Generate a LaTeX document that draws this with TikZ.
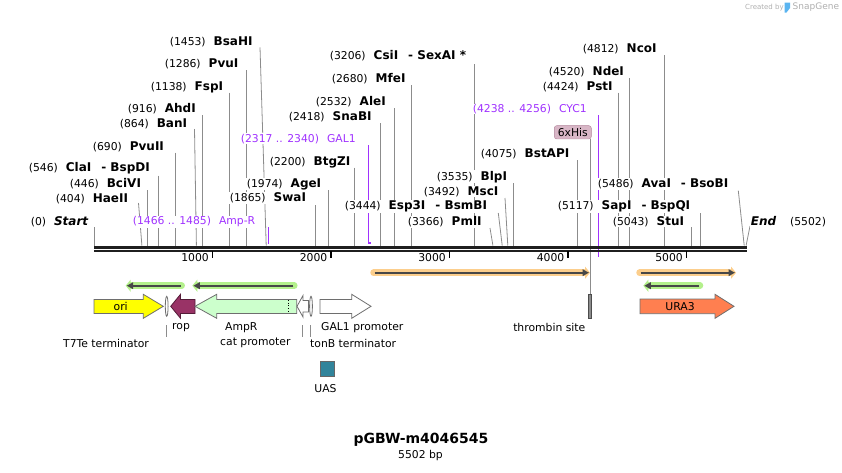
\documentclass[tikz,border=0pt]{standalone}
\usepackage{fontspec}
\setmainfont{DejaVu Sans}
\usetikzlibrary{arrows.meta}

\definecolor{leadgray}{RGB}{140,140,140}
\definecolor{featgray}{RGB}{110,110,110}
\definecolor{purp}{RGB}{160,50,255}
\definecolor{orifill}{RGB}{255,255,0}
\definecolor{ropfill}{RGB}{153,51,102}
\definecolor{ampfill}{RGB}{204,255,204}
\definecolor{urafill}{RGB}{255,127,80}
\definecolor{uasfill}{RGB}{49,132,155}
\definecolor{hisfill}{RGB}{216,182,198}
\definecolor{hisdraw}{RGB}{176,132,154}
\definecolor{glowgreen}{RGB}{180,240,140}
\definecolor{gloworange}{RGB}{252,206,140}
\definecolor{creditgray}{RGB}{175,175,175}
\definecolor{snapblue}{RGB}{90,180,240}

\newcommand{\enz}[1]{{\fontsize{12}{14}\selectfont\bfseries #1}}
% cut site: position / label x / label y / leader top x / leader top y / cut x / enzyme
\newcommand{\sites}{404/55/199/138.5/203/141.9/HaeII,
  446/69/184/146.9/190/146.9/BciVI,
  546/28/168/158.7/175.7/158.7/{ClaI\hspace{10pt}- BspDI},
  690/92/146.7/175.8/152.7/175.8/PvuII,
  864/119/124/194.5/129/196.4/BanI,
  916/127/109/202.6/115/202.6/AhdI,
  1138/150/87.3/228.9/92.7/228.9/FspI,
  1286/164/64/246.4/70/246.4/PvuI,
  1453/169/42.3/260/47.3/266.2/BsaHI,
  1865/229/198/315/205/315/SwaI,
  1974/246/184/327.9/190/327.9/AgeI,
  2200/269/162/354.7/167.7/354.7/BtgZI,
  2418/288/116.7/380.6/123.3/380.6/SnaBI,
  2532/315/102/394.1/108/394.1/AleI,
  2680/331/78.7/411.6/85/411.6/MfeI,
  3206/329/56/474/64/474/{CsiI\hspace{10pt}- SexAI *},
  3366/407/221.7/490/228/492.9/PmlI,
  3444/344/206.7/498.3/213/502.2/{Esp3I\hspace{10pt}- BsmBI},
  3492/423/191.7/505/198/507.8/MscI,
  3535/436/176.7/512.9/183.3/512.9/BlpI,
  4075/480/154/576.9/160/576.9/BstAPI,
  4424/542/86.7/618.3/92.7/618.3/PstI,
  4520/548/71.7/629.7/78.3/629.7/NdeI,
  4812/582/49/664.3/55/664.3/NcoI,
  5043/612/221.7/691.7/227.3/691.7/StuI,
  5117/557/206.7/700.4/213.3/700.4/{SapI\hspace{10pt}- BspQI},
  5486/597/184/738.3/190.7/744.2/{AvaI\hspace{10pt}- BsoBI}}

\begin{document}
\begin{tikzpicture}[x=1pt,y=-1pt,
    site/.style={anchor=west, inner sep=0.6pt, fill=white, font=\fontsize{10.8}{12}\selectfont},
    txt/.style={inner sep=0pt, font=\fontsize{10.8}{12}\selectfont},
    leader/.style={draw=leadgray, line width=0.8pt},
    feat/.style={draw=featgray, line width=0.8pt},
    purpline/.style={draw=purp, line width=1.3pt},
    glow/.style={line width=6.5pt, line cap=round, -{Triangle[length=5pt,width=12pt]}},
    orf/.style={draw=black!72, line width=1.8pt, -{Triangle[length=6.5pt,width=6.5pt]}}]
    \useasboundingbox (0,0) rectangle (842,472);

    % credit
    \node[anchor=west, inner sep=0, text=creditgray, font=\fontsize{7}{8}\selectfont] (credit) at (745,7.5) {Created by};
    \fill[snapblue] (784.5,2.5) -- (790,2.5) -- (790,8) -- (786.5,12.5) -- (784.5,12.5) -- cycle;
    \node[anchor=west, inner sep=0, text=creditgray, font=\fontsize{9}{10}\selectfont] (snapgene) at (792.5,7.5) {SnapGene};

    % purple features and 6xHis
    \coordinate (ampr-t) at (268.3,227);
    \coordinate (ampr-c) at (268.3,243.5);
    \draw[purpline] (ampr-t) -- (ampr-c);
    \coordinate (gal1-t) at (368.5,145);
    \coordinate (gal1-c) at (368.5,243);
    \draw[purpline] (gal1-t) -- (gal1-c) -- ++(2.5,0);
    \coordinate (cyc1-t) at (598.3,115);
    \coordinate (cyc1-c) at (598.3,256.5);
    \draw[purpline] (cyc1-t) -- (cyc1-c);
    \node[txt, draw=hisdraw, fill=hisfill, rounded corners=2.5pt, inner xsep=3.5pt, inner ysep=2.5pt] (his) at (572.8,132.3) {6xHis};
    \coordinate (thr-t) at (590.3,294);
    \draw[leader] (his.south -| thr-t) -- (thr-t);

    % leaders of the cut sites
    \coordinate (c0) at (94,245.5);
    \coordinate (t0) at (94,227);
    \draw[leader] (t0) -- (c0);
    \coordinate (c5502) at (746.1,245.5);
    \coordinate (t5502) at (750,226);
    \draw[leader] (t5502) -- (c5502);
    \foreach \p/\lx/\ly/\tx/\ty/\cx/\name in \sites {
        \coordinate (c\p) at (\cx,245.5);
        \coordinate (t\p) at (\tx,\ty);
        \draw[leader] (t\p) -- (c\p);
    }

    % labels of the cut sites
    \node[site] (l0) at (30,221.7) {(0)\hspace{8pt}\enz{\itshape Start}};
    \node[site] (l5502) at (750,221.7) {\enz{\itshape End}\hspace{14pt}(5502)};
    \foreach \p/\lx/\ly/\tx/\ty/\cx/\name in \sites {
        \node[site] (l\p) at (\lx,\ly) {(\p)\hspace{8pt}\enz{\name}};
    }
    \node[site, text=purp] (ampr) at (132,221.7) {(1466 .. 1485)\hspace{8pt}Amp-R};
    \node[site, text=purp] (gal1) at (240,138.7) {(2317 .. 2340)\hspace{8pt}GAL1};
    \node[site, text=purp] (cyc1) at (472,109) {(4238 .. 4256)\hspace{8pt}CYC1};

    % backbone and ruler
    \coordinate (start) at (94,247.3);
    \coordinate (end) at (747,247.3);
    \draw[line width=3.3pt, black!88] (start) -- (end);
    \draw[line width=1.3pt, black!88] ([yshift=-3.7pt]start) -- ([yshift=-3.7pt]end);
    \draw[line width=1.5pt] (212.5,251) -- (212.5,257.5) node[txt, anchor=east, xshift=-3pt] (k1) {1000};
    \draw[line width=1.5pt] (331,251) -- (331,257.5) node[txt, anchor=east, xshift=-3pt] (k2) {2000};
    \draw[line width=1.5pt] (449.5,251) -- (449.5,257.5) node[txt, anchor=east, xshift=-3pt] (k3) {3000};
    \draw[line width=1.5pt] (568,251) -- (568,257.5) node[txt, anchor=east, xshift=-3pt] (k4) {4000};
    \draw[line width=1.5pt] (686.6,251) -- (686.6,257.5) node[txt, anchor=east, xshift=-3pt] (k5) {5000};

    % open reading frames
    \draw[glow, gloworange] (373.5,272.7) -- (590,272.7);
    \draw[orf] (374.5,272.7) -- (589,272.7);
    \draw[glow, gloworange] (639.5,272.7) -- (736,272.7);
    \draw[orf] (640.5,272.7) -- (735,272.7);
    \draw[glow, glowgreen] (181.7,285.7) -- (125.7,285.7);
    \draw[orf] (180.7,285.7) -- (126.7,285.7);
    \draw[glow, glowgreen] (294.3,285.7) -- (192.3,285.7);
    \draw[orf] (293.3,285.7) -- (193.3,285.7);
    \draw[glow, glowgreen] (700,285.7) -- (643.3,285.7);
    \draw[orf] (699,285.7) -- (644.3,285.7);

    % features
    \draw[feat, fill=orifill] (94,299.5) -- (143.3,299.5) -- (143.3,294.3) -- (163.3,306.3) -- (143.3,318.3) -- (143.3,313.5) -- (94,313.5) -- cycle;
    \node[txt] (ori) at (120.7,306.3) {ori};
    \draw[feat, fill=white] (166.7,306.3) ellipse (1.4 and 10);
    \draw[draw=ropfill!55!black, line width=0.8pt, fill=ropfill] (195,299.5) -- (180.5,299.5) -- (180.5,294.3) -- (170.7,306.3) -- (180.5,318.3) -- (180.5,313.5) -- (195,313.5) -- cycle;
    \draw[feat, fill=ampfill] (296.7,299.5) -- (216.7,299.5) -- (216.7,294.3) -- (195,306.3) -- (216.7,318.3) -- (216.7,313.5) -- (296.7,313.5) -- cycle;
    \draw[black, line width=0.7pt, dotted] (288.3,300) -- (288.3,313);
    \draw[feat, fill=white] (308.5,300.5) -- (303,300.5) -- (303,295.5) -- (297,306.3) -- (303,317) -- (303,312) -- (308.5,312) -- cycle;
    \draw[feat, fill=white] (311,306.3) ellipse (1.4 and 10);
    \draw[feat, fill=white] (320,299.5) -- (351.7,299.5) -- (351.7,294.3) -- (371,306.3) -- (351.7,318.3) -- (351.7,313.5) -- (320,313.5) -- cycle;
    \draw[draw=black!70, line width=0.7pt, fill=black!45] (588,294) rectangle (591,318.5);
    \draw[feat, fill=urafill] (640,299) -- (715,299) -- (715,294.3) -- (734,306.3) -- (715,318.3) -- (715,313.7) -- (640,313.7) -- cycle;
    \node[txt] (ura3) at (680,306.3) {URA3};
    \draw[draw=black!60, line width=0.6pt, fill=uasfill] (320.7,361.7) rectangle (334.3,376);

    % feature labels
    \coordinate (t7te-t) at (166.7,325);
    \coordinate (t7te-b) at (166.7,337);
    \draw[leader] (t7te-t) -- (t7te-b);
    \coordinate (cat-t) at (302.7,325);
    \coordinate (cat-b) at (302.7,337);
    \draw[leader] (cat-t) -- (cat-b);
    \coordinate (tonb-t) at (310,325);
    \coordinate (tonb-b) at (310,337);
    \draw[leader] (tonb-t) -- (tonb-b);
    \node[txt, anchor=west] (rop) at (172,327.5) {rop};
    \node[txt, anchor=west] (t7te) at (63,343.3) {T7Te terminator};
    \node[txt, anchor=west] (ampr-lbl) at (225,327.5) {AmpR};
    \node[txt, anchor=west] (cat) at (220,343.3) {cat promoter};
    \node[txt, anchor=west] (tonb) at (310,343.3) {tonB terminator};
    \node[txt, anchor=west] (gal1p) at (321,327.5) {GAL1 promoter};
    \node[txt, anchor=east] (thr) at (585.5,327.5) {thrombin site};
    \node[txt] (uas) at (325.5,389) {UAS};

    % title
    \node[inner sep=0pt, font=\fontsize{14}{16}\selectfont\bfseries] (title) at (421,440) {pGBW-m4046545};
    \node[txt] (size) at (420.5,455.5) {5502 bp};
\end{tikzpicture}
\end{document}
